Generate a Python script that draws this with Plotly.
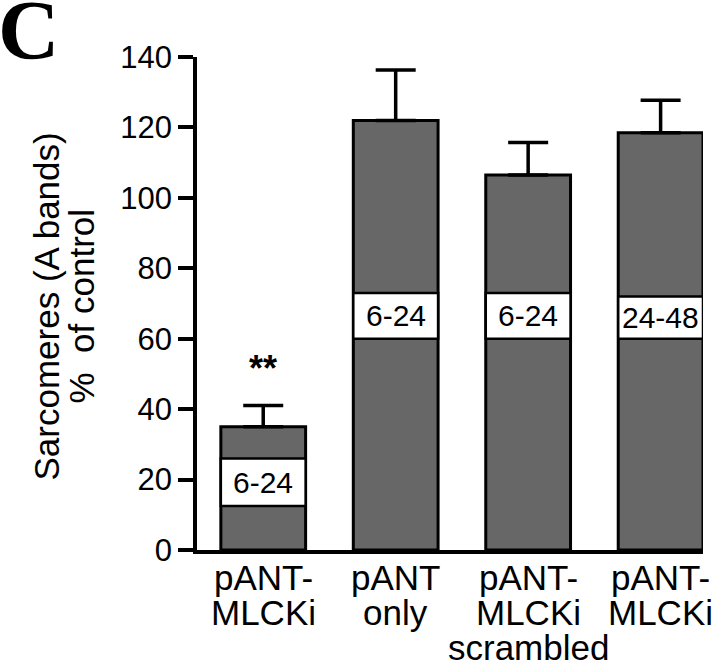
import plotly.graph_objects as go

# ---- data ----
categories = [["pANT-", "MLCKi"], ["pANT", "only"], ["pANT-", "MLCKi", "scrambled"], ["pANT-", "MLCKi"]]
values = [35, 122, 106.5, 118.5]
errors = [6, 14.3, 9.2, 9.2]
box_labels = ["6-24", "6-24", "6-24", "24-48"]
box_low = [12.5, 60, 60, 60]
box_high = [26, 73, 73, 72]
sig_marks = ["**", "", "", ""]
y_ticks = [0, 20, 40, 60, 80, 100, 120, 140]

xpos = list(range(len(values)))
BAR_W = 0.64
FONT = "Liberation Sans, Arial, Helvetica, sans-serif"

fig = go.Figure()
fig.add_trace(go.Bar(
    x=xpos, y=values, width=BAR_W,
    marker=dict(color="#676767", line=dict(color="black", width=3)),
    error_y=dict(type="data", array=errors, arrayminus=[0] * len(errors),
                 symmetric=False, color="black", thickness=3.5, width=20),
    showlegend=False, hoverinfo="skip",
))

shapes = []
annotations = []
for i, (lab, lo, hi) in enumerate(zip(box_labels, box_low, box_high)):
    shapes.append(dict(type="rect", xref="x", yref="y", x0=i - BAR_W / 2, x1=i + BAR_W / 2,
                       y0=lo, y1=hi, fillcolor="white", line=dict(color="black", width=2.5),
                       layer="above"))
    annotations.append(dict(x=i, y=(lo + hi) / 2, xref="x", yref="y", text=lab, showarrow=False,
                            xanchor="center", yanchor="middle",
                            font=dict(family=FONT, size=30, color="black")))

for i, s in enumerate(sig_marks):
    if s:
        annotations.append(dict(x=i, y=values[i] + errors[i], xref="x", yref="y", text="<b>" + s + "</b>",
                                showarrow=False, xanchor="center", yanchor="middle", yshift=37,
                                font=dict(family=FONT, size=36, color="black")))

line_shifts = [-27, -62, -97]
for i, lines in enumerate(categories):
    for j, ln in enumerate(lines):
        annotations.append(dict(x=i, y=0, xref="x", yref="paper", text=ln, showarrow=False,
                                xanchor="center", yanchor="middle", yshift=line_shifts[j],
                                font=dict(family=FONT, size=35, color="black")))

# y-axis title (two lines)
annotations.append(dict(x=0, y=0.5, xref="paper", yref="paper", text="Sarcomeres (A bands)",
                        showarrow=False, textangle=-90, xanchor="center", yanchor="middle",
                        xshift=-151, yshift=-3, font=dict(family=FONT, size=35, color="black")))
annotations.append(dict(x=0, y=0.5, xref="paper", yref="paper", text="%\u00a0\u00a0of control",
                        showarrow=False, textangle=-90, xanchor="center", yanchor="middle",
                        xshift=-116, yshift=-3, font=dict(family=FONT, size=35, color="black")))

# panel letter
annotations.append(dict(x=0, y=1, xref="paper", yref="paper", text="<b>C</b>", showarrow=False,
                        xanchor="center", yanchor="middle", xshift=-169, yshift=27,
                        font=dict(family="Liberation Serif, Times New Roman, serif", size=85, color="black")))

fig.update_layout(
    width=720, height=666,
    margin=dict(l=197, r=17, t=57, b=116, pad=0),
    paper_bgcolor="white", plot_bgcolor="white",
    shapes=shapes, annotations=annotations,
    xaxis=dict(range=[-0.5, 3.32], showticklabels=False, ticks="", showgrid=False, zeroline=False,
               showline=True, linecolor="black", linewidth=3.5, fixedrange=True),
    yaxis=dict(range=[0, 140], tickvals=y_ticks, ticks="outside", ticklen=15, tickwidth=3.5,
               tickcolor="black", showgrid=False, zeroline=False, showline=True, linecolor="black",
               linewidth=3.5, tickfont=dict(family=FONT, size=31, color="black"), fixedrange=True),
)

fig.write_html("out.html", config={"displayModeBar": False},
               post_script="document.body.style.margin='0';")
